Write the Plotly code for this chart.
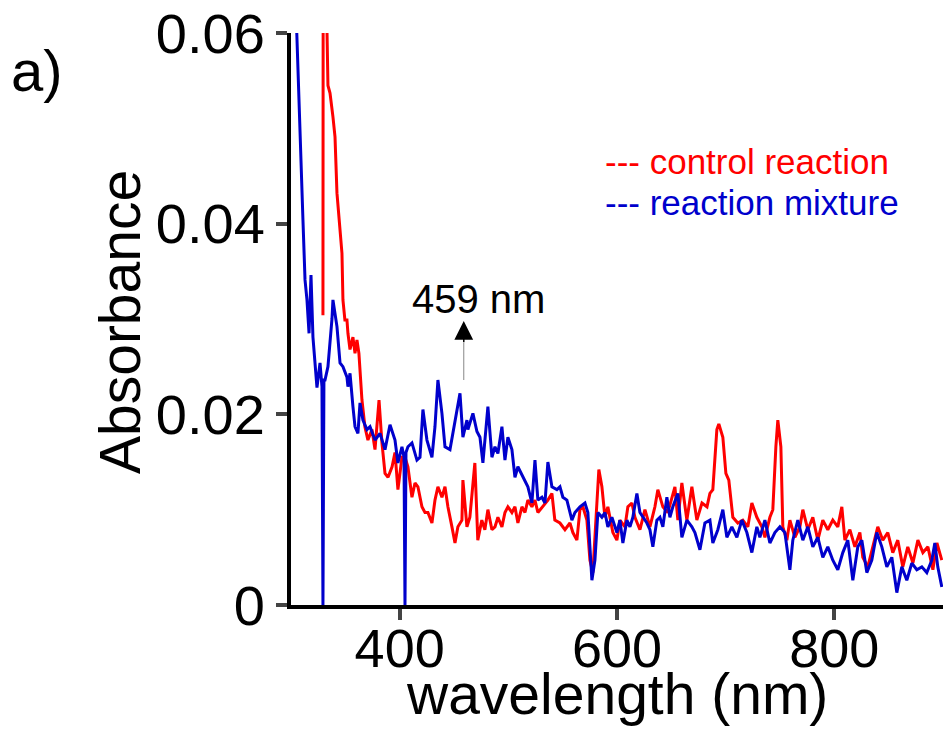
import plotly.graph_objects as go

# ---- data: reaction mixture (blue) ----
mix_nm = [303, 305.5, 309.2, 311, 312.9, 314.7, 316.6, 318.4, 320.2, 323.9, 326.7, 328.5, 329.4, 330.3,
          331.3, 334, 337.7, 338.6, 342.3, 345.1, 347.8, 351.5, 352.4, 354.3, 357, 358.9, 361.6, 363.5,
          366.2, 369.9, 372.7, 377.3, 381.9, 386.5, 391.1, 395.7, 398.4, 402.1, 404, 404.9, 405.8, 407.6,
          411.3, 415.9, 418.7, 421.4, 425.1, 429.7, 432.5, 435.2, 438.9, 441.7, 446.3, 449, 452.7, 455.5,
          458.2, 461.9, 462.8, 467.4, 471.1, 473.9, 476.6, 481.2, 484.9, 487.7, 490.4, 494.1, 496.9, 499.6,
          503.3, 506.1, 508.8, 513.4, 518, 521.7, 524.5, 527.2, 530.9, 533.7, 536.4, 540.1, 544.7, 547.5,
          550.2, 553.9, 558.5, 561.3, 565.9, 570.5, 573.2, 576.9, 579.7, 582.4, 586.1, 588.9, 591.6, 595.3,
          599.9, 602.7, 605.4, 609.1, 611.9, 614.6, 618.3, 621.1, 623.8, 627.5, 630.3, 633, 636.7, 639.5,
          642.2, 645.9, 648.7, 651.4, 656, 659.7, 664.3, 668.9, 671.7, 676.3, 680.9, 685.5, 688.2, 692.8,
          697.4, 701.1, 705.7, 710.3, 714.9, 719.5, 724.1, 728.7, 731.5, 736.1, 740.7, 745.3, 749.9, 754.5,
          759.1, 761.8, 766.4, 771, 775.6, 780.2, 784.8, 789.4, 794, 798.6, 803.2, 807.8, 812.4, 817,
          821.6, 825.3, 829.9, 834.5, 839.1, 843.7, 848.3, 852.9, 857.5, 862.1, 866.7, 871.3, 875.9, 880.5,
          885.1, 889.7, 892.5, 895.2, 898.9]
mix_abs = [0.068, 0.060, 0.0467, 0.0404, 0.0341, 0.0320, 0.0285, 0.0346, 0.0281, 0.0228, 0.0254, 0.0229, 0.0, 0.0236,
           0.0236, 0.0250, 0.0300, 0.0320, 0.0292, 0.0254, 0.0250, 0.0239, 0.0229, 0.0243, 0.0208, 0.0187, 0.0180, 0.0212,
           0.0194, 0.0184, 0.0187, 0.0173, 0.0180, 0.0163, 0.0189, 0.0173, 0.0149, 0.0166, 0.0155, 0.0, 0.0160, 0.0166,
           0.0170, 0.0152, 0.0155, 0.0205, 0.0173, 0.0155, 0.0187, 0.0236, 0.0201, 0.0166, 0.0163, 0.0180, 0.0205, 0.0222,
           0.0176, 0.0194, 0.0184, 0.0201, 0.0182, 0.0176, 0.0149, 0.0208, 0.0155, 0.0166, 0.0159, 0.0187, 0.0152, 0.0176,
           0.0163, 0.0134, 0.0145, 0.0134, 0.0124, 0.0107, 0.0152, 0.0110, 0.0113, 0.0107, 0.0150, 0.0124, 0.0121, 0.0124,
           0.0113, 0.0110, 0.0089, 0.0097, 0.0103, 0.0107, 0.0097, 0.0026, 0.0047, 0.0097, 0.0092, 0.0097, 0.0082, 0.0092,
           0.0076, 0.0089, 0.0065, 0.0089, 0.0082, 0.0092, 0.0117, 0.0097, 0.0092, 0.0086, 0.0079, 0.0061, 0.0089, 0.0092,
           0.0082, 0.0113, 0.0092, 0.0103, 0.0117, 0.0071, 0.0089, 0.0082, 0.0076, 0.0058, 0.0086, 0.0089, 0.0065, 0.0079,
           0.0100, 0.0071, 0.0082, 0.0071, 0.0089, 0.0076, 0.0055, 0.0082, 0.0071, 0.0089, 0.0065, 0.0076, 0.0082, 0.0076,
           0.0037, 0.0068, 0.0089, 0.0068, 0.0082, 0.0061, 0.0071, 0.0050, 0.0061, 0.0047, 0.0037, 0.0055, 0.0068, 0.0026,
           0.0061, 0.0068, 0.0034, 0.0047, 0.0076, 0.0061, 0.0040, 0.0050, 0.0013, 0.0040, 0.0026, 0.0044, 0.0037, 0.0040,
           0.0034, 0.0047, 0.0065, 0.0040, 0.0019]

# ---- data: control reaction (red) ----
ctrl_nm = [329.4, 329.6, 331.3, 333, 334, 335.9, 338.6, 340.5, 342.3, 345.1, 346.9, 347.8, 349.6, 351.5,
           352.4, 354.3, 357, 358.9, 360.7, 362.5, 365.3, 368, 370.8, 374.5, 377.3, 381, 383.7, 386.5,
           389.3, 393, 395.7, 398.4, 402.1, 404.9, 407.6, 411.3, 414.1, 416.8, 420.5, 423.3, 426, 429.7,
           432.5, 435.2, 438.9, 441.7, 444.4, 448.1, 450.9, 453.6, 457.3, 458.2, 461.9, 464.6, 469.2, 471.9,
           475.6, 478.4, 481.2, 484.9, 487.7, 490.4, 494.1, 496.9, 499.6, 503.3, 506.1, 508.8, 512.5, 515.3,
           518, 521.7, 524.5, 527.2, 531.8, 536.4, 540.1, 542.8, 547.5, 552.1, 556.7, 559.4, 563.1, 565.9,
           568.6, 572.3, 575.1, 577.8, 581.5, 583.3, 586.1, 588.9, 591.6, 596.2, 599.9, 602.7, 607.3, 610,
           613.7, 616.5, 621.1, 625.7, 630.3, 634.9, 637.6, 642.2, 646.8, 653.3, 656, 659.7, 664.3, 668.9,
           673.5, 678.2, 682.8, 685.5, 688.2, 691.9, 693.7, 697.4, 700.2, 702.9, 706.6, 711.2, 715.8, 720.4,
           724.1, 728.7, 733.3, 736.1, 740.7, 743.4, 746.2, 748, 750.8, 752.6, 756.3, 759.1, 763.7, 768.3,
           771, 775.6, 780.2, 784.8, 789.4, 794, 798.6, 803.2, 806.9, 809.7, 814.3, 818.9, 823.5, 826.2,
           830.8, 835.4, 840, 844.6, 849.2, 853.8, 858.4, 863, 867.6, 872.3, 876.9, 881.5, 886.1, 890.7,
           894.4, 898.9]
ctrl_abs = [0.0304, 0.066, 0.064, 0.061, 0.0545, 0.0537, 0.0512, 0.0491, 0.0432, 0.0397, 0.0369, 0.0320, 0.0299, 0.0299,
            0.0285, 0.0268, 0.0281, 0.0264, 0.0278, 0.0264, 0.0215, 0.0187, 0.0173, 0.0184, 0.0163, 0.0215, 0.0170, 0.0138,
            0.0134, 0.0145, 0.0160, 0.0121, 0.0155, 0.0155, 0.0145, 0.0113, 0.0128, 0.0124, 0.0103, 0.0097, 0.0097, 0.0086,
            0.0110, 0.0124, 0.0113, 0.0124, 0.0103, 0.0082, 0.0065, 0.0082, 0.0089, 0.0131, 0.0082, 0.0092, 0.0149, 0.0068,
            0.0089, 0.0079, 0.0100, 0.0079, 0.0082, 0.0092, 0.0082, 0.0097, 0.0103, 0.0097, 0.0103, 0.0086, 0.0103, 0.0097,
            0.0110, 0.0103, 0.0110, 0.0097, 0.0103, 0.0110, 0.0117, 0.0089, 0.0086, 0.0079, 0.0086, 0.0076, 0.0068, 0.0100,
            0.0103, 0.0089, 0.0047, 0.0034, 0.0107, 0.0142, 0.0124, 0.0092, 0.0103, 0.0076, 0.0068, 0.0089, 0.0082, 0.0103,
            0.0107, 0.0092, 0.0079, 0.0100, 0.0082, 0.0103, 0.0121, 0.0103, 0.0097, 0.0124, 0.0089, 0.0128, 0.0089, 0.0124,
            0.0089, 0.0107, 0.0103, 0.0117, 0.0121, 0.0184, 0.0190, 0.0176, 0.0138, 0.0131, 0.0092, 0.0086, 0.0089, 0.0082,
            0.0107, 0.0092, 0.0082, 0.0071, 0.0092, 0.0100, 0.0166, 0.0194, 0.0166, 0.0082, 0.0068, 0.0089, 0.0071, 0.0082,
            0.0100, 0.0079, 0.0092, 0.0068, 0.0089, 0.0079, 0.0089, 0.0082, 0.0103, 0.0068, 0.0079, 0.0061, 0.0076, 0.0050,
            0.0040, 0.0061, 0.0082, 0.0068, 0.0076, 0.0055, 0.0068, 0.0040, 0.0061, 0.0044, 0.0068, 0.0055, 0.0061, 0.0037,
            0.0065, 0.0047]

x_ticks = [400, 600, 800]
y_ticks = [0, 0.02, 0.04, 0.06]
y_tick_text = ["0", "0.02", "0.04", "0.06"]

FONT = "Liberation Sans, Arial, Helvetica, sans-serif"
RED = "#ff0000"
BLUE = "#0000cc"

fig = go.Figure()
fig.add_trace(go.Scatter(x=ctrl_nm, y=ctrl_abs, mode="lines", name="control reaction",
                         line=dict(color=RED, width=3)))
fig.add_trace(go.Scatter(x=mix_nm, y=mix_abs, mode="lines", name="reaction mixture",
                         line=dict(color=BLUE, width=3)))

fig.update_layout(
    width=945, height=736,
    margin=dict(l=291, r=2, t=33, b=131),
    paper_bgcolor="white", plot_bgcolor="white",
    showlegend=False,
    font=dict(family=FONT, color="black"),
    xaxis=dict(range=[300, 900], tickvals=x_ticks, ticks="outside", ticklen=11, tickwidth=4,
               showline=True, linecolor="black", linewidth=4, showgrid=False, zeroline=False,
               tickfont=dict(size=54), ticklabelstandoff=-18),
    yaxis=dict(range=[0, 0.06], tickvals=y_ticks, ticktext=y_tick_text, ticks="outside", ticklen=11,
               tickwidth=4, showline=True, linecolor="black", linewidth=4, showgrid=False, zeroline=False,
               tickfont=dict(size=56)),
)

# axis titles
fig.add_annotation(text="wavelength (nm)", xref="paper", yref="paper", x=0.5, y=-0.155,
                   xanchor="center", yanchor="middle", showarrow=False, font=dict(size=57, family=FONT))
fig.add_annotation(text="Absorbance", xref="paper", yref="paper", x=-0.262, y=0.495, textangle=-90,
                   xanchor="center", yanchor="middle", showarrow=False, font=dict(size=57, family=FONT))

fig.add_annotation(text="a)", xref="paper", yref="paper", x=-0.432, y=0.935, xanchor="left", yanchor="middle",
                   showarrow=False, font=dict(size=58, family=FONT))
fig.add_annotation(text="--- control reaction", xref="paper", yref="paper", x=0.478, y=0.7745,
                   xanchor="left", yanchor="middle", showarrow=False, font=dict(size=35, color=RED, family=FONT))
fig.add_annotation(text="--- reaction mixture", xref="paper", yref="paper", x=0.478, y=0.703,
                   xanchor="left", yanchor="middle", showarrow=False, font=dict(size=35, color=BLUE, family=FONT))

# 459 nm marker
fig.add_shape(type="line", x0=459, x1=459, y0=0.0236, y1=0.0275, line=dict(color="#888888", width=1))
fig.add_annotation(x=459, y=0.0298, ax=459, ay=0.0274, xref="x", yref="y", axref="x", ayref="y",
                   showarrow=True, arrowhead=2, arrowsize=2.5, arrowwidth=1.5, arrowcolor="black", text="")
fig.add_annotation(text="459 nm", x=473, y=0.0321, xref="x", yref="y", showarrow=False,
                   font=dict(size=40, family=FONT))

fig.write_html("out.html")
